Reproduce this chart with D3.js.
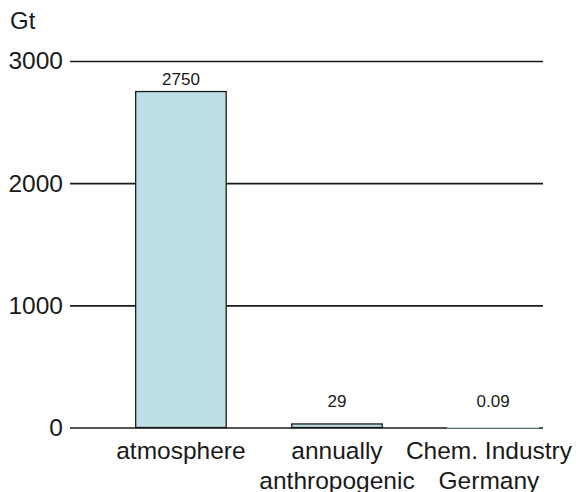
<!DOCTYPE html>
<html>
<head>
<meta charset="utf-8">
<script src="https://cdn.jsdelivr.net/npm/d3@7"></script>
<style>
  html, body { margin: 0; padding: 0; background: #fff; }
  svg { display: block; font-family: "Liberation Sans", Arial, Helvetica, sans-serif; }
</style>
</head>
<body>
<svg id="chart" width="576" height="492"></svg>
<script>
// CO2 amounts in gigatonnes
const categories = ["atmosphere", "annually anthropogenic", "Chem. Industry Germany"];
const categoryLines = [["atmosphere"], ["annually", "anthropogenic"], ["Chem. Industry", "Germany"]];
const values = [2750, 29, 0.09];
const valueLabels = ["2750", "29", "0.09"];
const yTicks = [0, 1000, 2000, 3000];
const unitLabel = "Gt";

const W = 576;
const svg = d3.select("#chart");

const gridLeft = 70, gridRight = 543;
const y = d3.scaleLinear().domain([0, 3000]).range([427.5, 61]);
const x = d3.scaleBand()
  .domain(categories)
  .range([131, 543])
  .paddingInner(0.42)
  .paddingOuter(0.03);

const barFill = "#bde0e4";
const ink = "#1a1a1a";

// unit label
svg.append("text")
  .attr("x", 10).attr("y", 29)
  .attr("font-size", 24)
  .attr("fill", ink)
  .text(unitLabel);

// horizontal grid lines (the one at 0 doubles as the baseline)
const yAxis = d3.axisLeft(y)
  .tickValues(yTicks)
  .tickFormat(d3.format("d"))
  .tickSize(-(gridRight - gridLeft))
  .tickPadding(7);

const gAxis = svg.append("g")
  .attr("transform", `translate(${gridLeft},0)`)
  .call(yAxis);
gAxis.select(".domain").remove();
gAxis.selectAll(".tick line")
  .attr("stroke", ink)
  .attr("stroke-width", 1.6);
gAxis.selectAll(".tick text")
  .attr("font-size", 24.5)
  .attr("font-family", "'Liberation Sans', Arial, sans-serif")
  .attr("fill", ink);

// bars
const data = categories.map((c, i) => ({ c, v: values[i], label: valueLabels[i], lines: categoryLines[i] }));

svg.append("g").selectAll("rect")
  .data(data)
  .join("rect")
  .attr("x", d => x(d.c))
  .attr("y", d => y(d.v))
  .attr("width", x.bandwidth())
  .attr("height", d => y(0) - y(d.v))
  .attr("fill", barFill)
  .attr("stroke", d => (y(0) - y(d.v) < 1 ? barFill : ink))
  .attr("stroke-width", 1.3);

// value labels above bars
svg.append("g").selectAll("text")
  .data(data)
  .join("text")
  .attr("x", d => x(d.c) + x.bandwidth() / 2)
  .attr("y", d => Math.min(y(d.v) - 6.5, y(0) - 21))
  .attr("text-anchor", "middle")
  .attr("font-size", 17)
  .attr("fill", ink)
  .text(d => d.label);

// category labels, centred under each bar but kept inside the canvas
const cat = svg.append("g").selectAll("text")
  .data(data)
  .join("text")
  .attr("y", 459)
  .attr("text-anchor", "middle")
  .attr("font-size", 24.5)
  .attr("fill", ink);
cat.selectAll("tspan")
  .data(d => d.lines)
  .join("tspan")
  .attr("dy", (d, i) => (i === 0 ? 0 : 29.5))
  .text(d => d);
cat.each(function (d) {
  const t = d3.select(this);
  let maxW = 0;
  t.selectAll("tspan").each(function () { maxW = Math.max(maxW, this.getComputedTextLength()); });
  const cx = Math.min(x(d.c) + x.bandwidth() / 2, W - 4 - maxW / 2);
  t.attr("x", cx);
  t.selectAll("tspan").attr("x", cx);
});
</script>
</body>
</html>
